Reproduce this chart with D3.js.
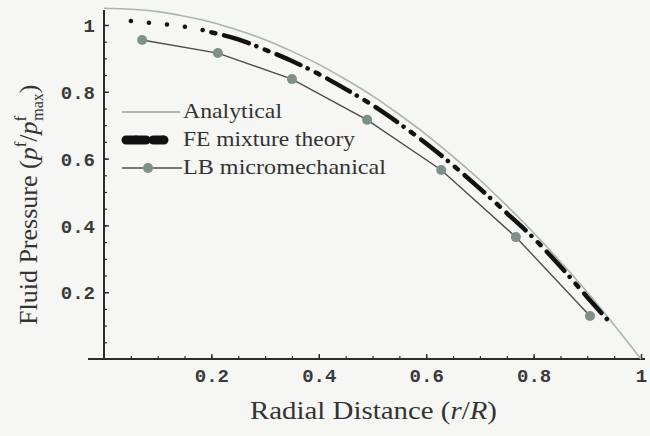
<!DOCTYPE html>
<html>
<head>
<meta charset="utf-8">
<script src="https://cdn.jsdelivr.net/npm/d3@7"></script>
<style>
  html, body { margin: 0; padding: 0; background: #f6f6f4; }
  svg { display: block; }
</style>
</head>
<body>
<svg id="chart" width="650" height="436"></svg>
<script>
// Radial fluid pressure profiles: analytical solution, FE mixture theory, LB micromechanical model

// Analytical solution, sampled along r/R
const analyticalR = [0, 0.05, 0.1, 0.15, 0.2, 0.25, 0.3, 0.35, 0.4, 0.45, 0.5,
                     0.55, 0.6, 0.65, 0.7, 0.75, 0.8, 0.85, 0.9, 0.95, 1];
const analyticalP = [1.05, 1.047, 1.040, 1.026, 1.008, 0.984, 0.956, 0.921, 0.882, 0.837, 0.788,
                     0.732, 0.672, 0.606, 0.536, 0.459, 0.378, 0.291, 0.200, 0.102, 0];

// FE mixture theory
const feR = [0.05, 0.09, 0.11, 0.14, 0.17, 0.2, 0.25, 0.3, 0.35, 0.4, 0.45, 0.5,
             0.55, 0.6, 0.65, 0.7, 0.75, 0.8, 0.85, 0.9, 0.945];
const feP = [1.012, 1.006, 1.003, 0.997, 0.990, 0.978, 0.957, 0.926, 0.892, 0.853, 0.808, 0.760,
             0.705, 0.645, 0.580, 0.510, 0.437, 0.362, 0.277, 0.185, 0.104];

// LB micromechanical
const lbR = [0.071, 0.212, 0.35, 0.49, 0.628, 0.767, 0.905];
const lbP = [0.955, 0.916, 0.838, 0.716, 0.566, 0.365, 0.129];

// Axis ticks
const majorTicks = [0.2, 0.4, 0.6, 0.8, 1];
const tickLabels = ["0.2", "0.4", "0.6", "0.8", "1"];
const minorTicks = d3.range(1, 21).map(i => i * 0.05);

const legendLabels = ["Analytical", "FE mixture theory", "LB micromechanical"];

const svg = d3.select("#chart");
const ink = "#2b2b2b";
const textInk = "#333";

const x = d3.scaleLinear().domain([0, 1]).range([104, 641]);
const y = d3.scaleLinear().domain([0, 1]).range([359, 25]);

const labelOf = d => tickLabels[majorTicks.findIndex(t => Math.abs(t - d) < 1e-9)];

// Minor ticks
svg.append("g")
  .attr("transform", `translate(0,${y(0)})`)
  .call(d3.axisBottom(x).tickValues(minorTicks).tickSize(-3).tickFormat(""))
  .call(g => g.select(".domain").remove())
  .call(g => g.selectAll("line").attr("stroke", ink).attr("stroke-width", 1.2));
svg.append("g")
  .attr("transform", `translate(${x(0)},0)`)
  .call(d3.axisLeft(y).tickValues(minorTicks).tickSize(-3).tickFormat(""))
  .call(g => g.select(".domain").remove())
  .call(g => g.selectAll("line").attr("stroke", ink).attr("stroke-width", 1.2));

// Major ticks with labels
const xAxis = svg.append("g")
  .attr("transform", `translate(0,${y(0)})`)
  .call(d3.axisBottom(x).tickValues(majorTicks).tickSize(-5).tickPadding(9).tickFormat(labelOf));
const yAxis = svg.append("g")
  .attr("transform", `translate(${x(0)},0)`)
  .call(d3.axisLeft(y).tickValues(majorTicks).tickSize(-5).tickPadding(9).tickFormat(labelOf));

[xAxis, yAxis].forEach(g => {
  g.select(".domain").remove();
  g.selectAll("line").attr("stroke", ink).attr("stroke-width", 1.4);
  g.selectAll("text")
    .attr("fill", "#3a3a3a")
    .attr("font-family", "'Liberation Mono', 'DejaVu Sans Mono', monospace")
    .attr("font-weight", "bold")
    .attr("font-size", 19);
});
yAxis.selectAll("text").attr("dy", "0.35em");
xAxis.selectAll("text").attr("dy", "0.72em");

// Axis lines
svg.append("line")
  .attr("x1", 88).attr("x2", 645).attr("y1", y(0)).attr("y2", y(0))
  .attr("stroke", ink).attr("stroke-width", 2);
svg.append("line")
  .attr("x1", x(0)).attr("x2", x(0)).attr("y1", y(1.045)).attr("y2", y(0))
  .attr("stroke", ink).attr("stroke-width", 2);

// Analytical curve
const analytical = analyticalR.map((r, i) => [r, analyticalP[i]]);
const curve = d3.line().x(d => x(d[0])).y(d => y(d[1])).curve(d3.curveMonotoneX);
svg.append("path")
  .datum(analytical)
  .attr("d", curve)
  .attr("fill", "none")
  .attr("stroke", "#a8b6b2")
  .attr("stroke-width", 1.6);

// FE mixture theory: sparse dots near the centre, dash-dot further out
const fe = feR.map((r, i) => [r, feP[i]]);
svg.append("path")
  .datum(fe.filter(d => d[0] <= 0.2))
  .attr("d", curve)
  .attr("fill", "none")
  .attr("stroke", "#111")
  .attr("stroke-width", 4.5)
  .attr("stroke-linecap", "round")
  .attr("stroke-dasharray", "0.1 18");
svg.append("path")
  .datum(fe.filter(d => d[0] >= 0.2))
  .attr("d", curve)
  .attr("fill", "none")
  .attr("stroke", "#111")
  .attr("stroke-width", 4.5)
  .attr("stroke-linecap", "round")
  .attr("stroke-dasharray", "4 9 26 8 0.1 9");

// LB micromechanical
const lb = lbR.map((r, i) => [r, lbP[i]]);
svg.append("path")
  .datum(lb)
  .attr("d", d3.line().x(d => x(d[0])).y(d => y(d[1])))
  .attr("fill", "none")
  .attr("stroke", "#4a4f4d")
  .attr("stroke-width", 1.4);
svg.append("g").selectAll("circle")
  .data(lb)
  .join("circle")
  .attr("cx", d => x(d[0]))
  .attr("cy", d => y(d[1]))
  .attr("r", 5)
  .attr("fill", "#7f8f8a");

// Legend
const legend = svg.append("g").attr("transform", "translate(122,0)");
const rowY = [112, 140, 168];
const textWidths = [99, 172, 203];
legend.append("line")
  .attr("x1", 0).attr("x2", 58).attr("y1", rowY[0]).attr("y2", rowY[0])
  .attr("stroke", "#a8b6b2").attr("stroke-width", 1.8);
legend.append("line")
  .attr("x1", 4).attr("x2", 42).attr("y1", rowY[1]).attr("y2", rowY[1])
  .attr("stroke", "#111").attr("stroke-width", 9)
  .attr("stroke-linecap", "round").attr("stroke-dasharray", "10 0.1 10 7");
legend.append("line")
  .attr("x1", 0).attr("x2", 60).attr("y1", rowY[2]).attr("y2", rowY[2])
  .attr("stroke", "#4a4f4d").attr("stroke-width", 1.6);
legend.append("circle")
  .attr("cx", 26).attr("cy", rowY[2]).attr("r", 5).attr("fill", "#7f8f8a");
legend.selectAll("text.lab")
  .data(legendLabels)
  .join("text")
  .attr("class", "lab")
  .attr("x", 61)
  .attr("y", (d, i) => rowY[i] + 6)
  .attr("font-family", "'Liberation Serif', 'DejaVu Serif', serif")
  .attr("font-size", 22)
  .attr("fill", textInk)
  .attr("textLength", (d, i) => textWidths[i])
  .attr("lengthAdjust", "spacingAndGlyphs")
  .text(d => d);

// Axis titles
const serif = "'Liberation Serif', 'DejaVu Serif', serif";
const xt = svg.append("text")
  .attr("x", 250).attr("y", 419)
  .attr("font-family", serif).attr("font-size", 26).attr("fill", textInk)
  .attr("textLength", 247).attr("lengthAdjust", "spacingAndGlyphs");
xt.append("tspan").text("Radial Distance (");
xt.append("tspan").attr("font-style", "italic").text("r");
xt.append("tspan").text("/");
xt.append("tspan").attr("font-style", "italic").text("R");
xt.append("tspan").text(")");

const yt = svg.append("text")
  .attr("transform", "translate(37,325) rotate(-90)")
  .attr("x", 0).attr("y", 0)
  .attr("font-family", serif).attr("font-size", 26).attr("fill", textInk);
yt.append("tspan").text("Fluid Pressure (");
yt.append("tspan").attr("font-style", "italic").text("p");
yt.append("tspan").attr("font-size", 17).attr("dy", -11).text("f");
yt.append("tspan").attr("dy", 11).text("/");
yt.append("tspan").attr("font-style", "italic").text("p");
yt.append("tspan").attr("font-size", 17).attr("dy", -11).text("f");
yt.append("tspan").attr("font-size", 16).attr("dx", -5).attr("dy", 17).text("max");
yt.append("tspan").attr("dy", -6).text(")");
</script>
</body>
</html>
